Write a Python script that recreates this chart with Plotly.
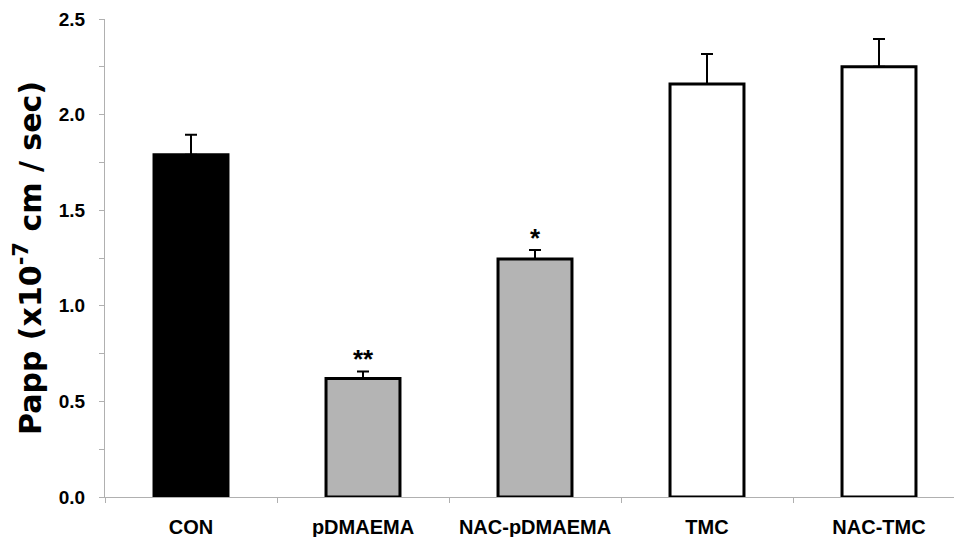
import plotly.graph_objects as go

# Apparent permeability per treatment group
categories = ["CON", "pDMAEMA", "NAC-pDMAEMA", "TMC", "NAC-TMC"]
papp = [1.79, 0.62, 1.245, 2.16, 2.25]
papp_sd = [0.105, 0.037, 0.047, 0.157, 0.146]
fills = ["#000000", "#b4b4b4", "#b4b4b4", "#ffffff", "#ffffff"]
significance = ["", "**", "*", "", ""]

font_family = "Arial, 'Liberation Sans', sans-serif"
title_family = "'DejaVu Sans', Arial, sans-serif"

fig = go.Figure()
fig.add_trace(go.Bar(
    x=categories,
    y=papp,
    width=0.43,
    marker=dict(color=fills, line=dict(color="#000000", width=3)),
    error_y=dict(
        type="data",
        symmetric=False,
        array=papp_sd,
        arrayminus=[0] * len(papp_sd),
        color="#000000",
        thickness=2,
        width=6,
    ),
    showlegend=False,
))

# Significance markers just above the error bars
for cat, val, sd, mark in zip(categories, papp, papp_sd, significance):
    if mark:
        fig.add_annotation(
            x=cat, y=val + sd, text=f"<b>{mark}</b>", showarrow=False,
            yanchor="bottom", yshift=-5,
            font=dict(family=font_family, size=26, color="#000000"),
        )

fig.update_layout(
    width=954,
    height=537,
    margin=dict(l=105, r=0, t=19, b=40),
    paper_bgcolor="#ffffff",
    plot_bgcolor="#ffffff",
    font=dict(family=font_family, color="#000000"),
    xaxis=dict(
        type="category",
        range=[-0.5, -0.5 + (954 - 105) / 172],
        tickson="boundaries",
        ticks="outside",
        ticklen=5,
        tickcolor="#b0b0b0",
        showline=True,
        linecolor="#b0b0b0",
        linewidth=1,
        showgrid=False,
        tickfont=dict(family=font_family, size=20, weight="bold"),
        ticklabelstandoff=12,
    ),
    yaxis=dict(
        range=[0, 2.5],
        tickvals=[0, 0.5, 1.0, 1.5, 2.0, 2.5],
        tickformat=".1f",
        ticks="outside",
        ticklen=5,
        tickcolor="#b0b0b0",
        showline=True,
        linecolor="#b0b0b0",
        linewidth=1,
        showgrid=False,
        zeroline=False,
        tickfont=dict(family=font_family, size=19, weight="bold"),
        ticklabelstandoff=10,
        minor=dict(dtick=0.25, ticks="outside", ticklen=5, tickcolor="#b0b0b0", showgrid=False),
        title=dict(
            text="Papp (x10<sup>-7</sup> cm / sec)",
            font=dict(family=title_family, size=30, weight="bold"),
            standoff=8,
        ),
    ),
)

fig.write_html("out.html")
